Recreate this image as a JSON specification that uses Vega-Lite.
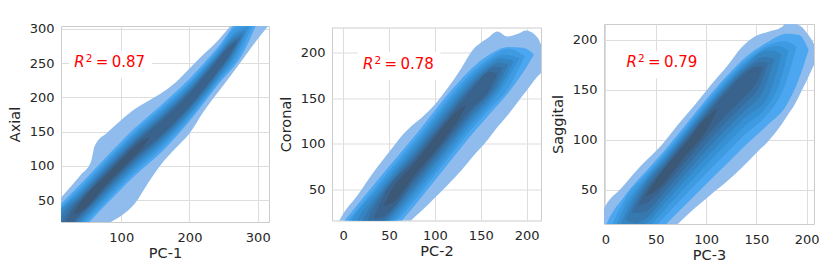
{
"$schema":"https://vega.github.io/schema/vega-lite/v6.json",
"padding":{"left":6,"top":22,"right":0,"bottom":0},
"bounds":"flush","center":true,"spacing":63,
"resolve":{"scale":{"x":"independent","y":"independent"}},
"config":{"font":"DejaVu Sans","view":{"stroke":"#cccccc","strokeWidth":1},
"axis":{"grid":true,"gridColor":"#dddddd","domain":false,"ticks":false,"labelFontSize":13,"labelColor":"#262626","titleFontSize":14.5,"titleFontWeight":"normal","titleColor":"#262626","labelPadding":7,"titlePadding":4,"labelOverlap":false,"labelFlush":false},
"axisX":{"labelPadding":9,"titlePadding":2},
"axisY":{"labelOverlap":false,"titlePadding":7}},
"datasets":{
"c1":[
{"l":1,"x":0,"lo":-50,"hi":40},{"l":1,"x":20,"lo":-30,"hi":63},{"l":1,"x":40,"lo":-15,"hi":86},{"l":1,"x":56,"lo":-5,"hi":107},{"l":1,"x":58,"lo":-4,"hi":116},{"l":1,"x":61,"lo":-1,"hi":129},{"l":1,"x":80,"lo":15,"hi":149},{"l":1,"x":100,"lo":27,"hi":167},{"l":1,"x":120,"lo":45,"hi":183},{"l":1,"x":140,"lo":76,"hi":195},{"l":1,"x":160,"lo":104,"hi":207},{"l":1,"x":180,"lo":126,"hi":222},{"l":1,"x":200,"lo":147,"hi":242},{"l":1,"x":220,"lo":178,"hi":262},{"l":1,"x":240,"lo":205,"hi":281},{"l":1,"x":260,"lo":231,"hi":304},{"l":1,"x":280,"lo":258,"hi":325},{"l":1,"x":300,"lo":285,"hi":345},{"l":1,"x":320,"lo":310,"hi":370},
{"l":2,"x":-40,"lo":-76,"hi":-7},{"l":2,"x":0,"lo":-36,"hi":33},{"l":2,"x":40,"lo":4,"hi":73},{"l":2,"x":80,"lo":46,"hi":115},{"l":2,"x":120,"lo":86,"hi":155},{"l":2,"x":160,"lo":121,"hi":190},{"l":2,"x":200,"lo":165,"hi":227},{"l":2,"x":240,"lo":216,"hi":271},{"l":2,"x":280,"lo":267,"hi":319},{"l":2,"x":305,"lo":324,"hi":324},
{"l":3,"x":-40,"lo":-71,"hi":-12},{"l":3,"x":0,"lo":-31,"hi":28},{"l":3,"x":40,"lo":9,"hi":68},{"l":3,"x":80,"lo":51,"hi":110},{"l":3,"x":120,"lo":91,"hi":150},{"l":3,"x":160,"lo":126,"hi":185},{"l":3,"x":200,"lo":169,"hi":222},{"l":3,"x":240,"lo":220,"hi":267},{"l":3,"x":272,"lo":261,"hi":306},{"l":3,"x":296,"lo":313,"hi":313},
{"l":4,"x":-25,"lo":-25,"hi":-25},{"l":4,"x":-10,"lo":-31,"hi":9},{"l":4,"x":0,"lo":-26,"hi":24},{"l":4,"x":40,"lo":14,"hi":64},{"l":4,"x":80,"lo":56,"hi":106},{"l":4,"x":120,"lo":96,"hi":146},{"l":4,"x":160,"lo":131,"hi":181},{"l":4,"x":200,"lo":174,"hi":219},{"l":4,"x":240,"lo":224,"hi":263},{"l":4,"x":270,"lo":265,"hi":297.5},{"l":4,"x":288,"lo":304,"hi":304},
{"l":5,"x":-15,"lo":-15,"hi":-15},{"l":5,"x":-2,"lo":-19.6,"hi":14},{"l":5,"x":40,"lo":18,"hi":60},{"l":5,"x":80,"lo":60,"hi":102},{"l":5,"x":120,"lo":100,"hi":142},{"l":5,"x":160,"lo":135,"hi":177},{"l":5,"x":200,"lo":177,"hi":215},{"l":5,"x":240,"lo":227,"hi":261},{"l":5,"x":266,"lo":262.8,"hi":290.3},{"l":5,"x":283,"lo":298,"hi":298},
{"l":6,"x":-5,"lo":-5,"hi":-5},{"l":6,"x":8,"lo":-6.4,"hi":21.2},{"l":6,"x":40,"lo":22,"hi":56.5},{"l":6,"x":80,"lo":64,"hi":98.5},{"l":6,"x":120,"lo":104,"hi":138.5},{"l":6,"x":160,"lo":139,"hi":173.5},{"l":6,"x":200,"lo":181,"hi":212},{"l":6,"x":240,"lo":231,"hi":258},{"l":6,"x":262,"lo":260.5,"hi":283.3},{"l":6,"x":279,"lo":293,"hi":293},
{"l":7,"x":8,"lo":8,"hi":8},{"l":7,"x":19,"lo":7.8,"hi":29.4},{"l":7,"x":40,"lo":26,"hi":53},{"l":7,"x":80,"lo":68,"hi":95},{"l":7,"x":120,"lo":108,"hi":135},{"l":7,"x":160,"lo":143,"hi":170},{"l":7,"x":200,"lo":184.4,"hi":208.7},{"l":7,"x":240,"lo":233.8,"hi":255.4},{"l":7,"x":260,"lo":260.8,"hi":278.6},{"l":7,"x":275,"lo":288,"hi":288},
{"l":8,"x":18,"lo":18,"hi":18},{"l":8,"x":27,"lo":18.2,"hi":35},{"l":8,"x":40,"lo":29,"hi":50},{"l":8,"x":80,"lo":71,"hi":92},{"l":8,"x":120,"lo":111,"hi":132},{"l":8,"x":160,"lo":146,"hi":167},{"l":8,"x":200,"lo":187,"hi":206},{"l":8,"x":240,"lo":236,"hi":253},{"l":8,"x":257,"lo":259.1,"hi":273},{"l":8,"x":270,"lo":282,"hi":282},
{"l":9,"x":30,"lo":30,"hi":30},{"l":9,"x":37,"lo":31.4,"hi":41.8},{"l":9,"x":80,"lo":75,"hi":88},{"l":9,"x":120,"lo":115,"hi":128},{"l":9,"x":132,"lo":127.2,"hi":137.6},{"l":9,"x":142,"lo":142,"hi":142}
],
"c2":[
{"l":1,"x":-12,"lo":-75,"hi":2},{"l":1,"x":-4,"lo":-68,"hi":16},{"l":1,"x":0,"lo":-62,"hi":23},{"l":1,"x":16,"lo":-45,"hi":44},{"l":1,"x":34,"lo":-25,"hi":70},{"l":1,"x":51,"lo":-5,"hi":92},{"l":1,"x":65,"lo":7,"hi":110},{"l":1,"x":74,"lo":16,"hi":119},{"l":1,"x":85,"lo":26,"hi":128},{"l":1,"x":100,"lo":41,"hi":143},{"l":1,"x":114,"lo":55,"hi":161},{"l":1,"x":129,"lo":71,"hi":183},{"l":1,"x":140,"lo":84.5,"hi":201},{"l":1,"x":158,"lo":105,"hi":216},{"l":1,"x":168,"lo":118,"hi":223},{"l":1,"x":179,"lo":131,"hi":217.5},{"l":1,"x":192,"lo":148,"hi":221},{"l":1,"x":199,"lo":157,"hi":224},{"l":1,"x":212,"lo":174,"hi":216},{"l":1,"x":216,"lo":178,"hi":208},{"l":1,"x":224,"lo":195,"hi":195},
{"l":2,"x":-30,"lo":-98,"hi":-22},{"l":2,"x":0,"lo":-62,"hi":14},{"l":2,"x":40,"lo":-13,"hi":63},{"l":2,"x":80,"lo":35,"hi":111},{"l":2,"x":120,"lo":85,"hi":161},{"l":2,"x":140,"lo":110,"hi":182.4},{"l":2,"x":160,"lo":133,"hi":198},{"l":2,"x":180,"lo":156,"hi":206},{"l":2,"x":196,"lo":178,"hi":205},{"l":2,"x":208,"lo":198,"hi":198},
{"l":3,"x":-20,"lo":-80,"hi":-15},{"l":3,"x":0,"lo":-56,"hi":9},{"l":3,"x":40,"lo":-7,"hi":58},{"l":3,"x":80,"lo":41,"hi":106},{"l":3,"x":120,"lo":91,"hi":156},{"l":3,"x":140,"lo":116,"hi":177.9},{"l":3,"x":160,"lo":138.7,"hi":194.25},{"l":3,"x":180,"lo":161,"hi":204},{"l":3,"x":198,"lo":196,"hi":196},
{"l":4,"x":-12,"lo":-36,"hi":-36},{"l":4,"x":2,"lo":-42.8,"hi":1.6},{"l":4,"x":40,"lo":-2,"hi":53.5},{"l":4,"x":80,"lo":46,"hi":101.5},{"l":4,"x":120,"lo":96,"hi":151.5},{"l":4,"x":140,"lo":121,"hi":173.9},{"l":4,"x":160,"lo":143.5,"hi":190.9},{"l":4,"x":176,"lo":164.8,"hi":197.5},{"l":4,"x":192,"lo":194,"hi":194},
{"l":5,"x":-2,"lo":-24,"hi":-24},{"l":5,"x":12,"lo":-26.8,"hi":10},{"l":5,"x":40,"lo":3,"hi":49},{"l":5,"x":80,"lo":51,"hi":97},{"l":5,"x":120,"lo":101,"hi":147},{"l":5,"x":140,"lo":126,"hi":169.8},{"l":5,"x":160,"lo":148.2,"hi":187.5},{"l":5,"x":172,"lo":164,"hi":193.6},{"l":5,"x":186,"lo":191,"hi":191},
{"l":6,"x":10,"lo":-10,"hi":-10},{"l":6,"x":24,"lo":-9,"hi":21.4},{"l":6,"x":40,"lo":7,"hi":45},{"l":6,"x":80,"lo":55,"hi":93},{"l":6,"x":120,"lo":105,"hi":143},{"l":6,"x":140,"lo":130,"hi":166.2},{"l":6,"x":160,"lo":152,"hi":184.5},{"l":6,"x":170,"lo":166.1,"hi":189.1},{"l":6,"x":180,"lo":187,"hi":187},
{"l":7,"x":22,"lo":4.5,"hi":4.5},{"l":7,"x":32,"lo":4.6,"hi":28.2},{"l":7,"x":40,"lo":11.5,"hi":41},{"l":7,"x":80,"lo":59.5,"hi":89},{"l":7,"x":120,"lo":109.5,"hi":139},{"l":7,"x":140,"lo":134.5,"hi":162.6},{"l":7,"x":160,"lo":156.3,"hi":181.5},{"l":7,"x":166,"lo":165.3,"hi":184.5},{"l":7,"x":174,"lo":183,"hi":183},
{"l":8,"x":33,"lo":18,"hi":18},{"l":8,"x":41,"lo":19,"hi":36.6},{"l":8,"x":80,"lo":63.5,"hi":85.5},{"l":8,"x":120,"lo":113.5,"hi":135.5},{"l":8,"x":140,"lo":138.5,"hi":159.45},{"l":8,"x":160,"lo":160.1,"hi":178.9},{"l":8,"x":168,"lo":177,"hi":177},
{"l":9,"x":44,"lo":32,"hi":32},{"l":9,"x":50,"lo":33.4,"hi":44.2},{"l":9,"x":80,"lo":68,"hi":81.5},{"l":9,"x":120,"lo":118,"hi":131.5},{"l":9,"x":126,"lo":126.9,"hi":137.7},{"l":9,"x":134,"lo":142.5,"hi":142.5}
],
"c3":[
{"l":1,"x":-2,"lo":-60,"hi":30},{"l":1,"x":0,"lo":-58,"hi":34},{"l":1,"x":16,"lo":-40,"hi":52},{"l":1,"x":36,"lo":-20,"hi":75},{"l":1,"x":56,"lo":0,"hi":95},{"l":1,"x":72,"lo":16,"hi":115},{"l":1,"x":89,"lo":32,"hi":135},{"l":1,"x":105,"lo":45.5,"hi":155},{"l":1,"x":122,"lo":59.6,"hi":175},{"l":1,"x":135,"lo":71.7,"hi":192},{"l":1,"x":148,"lo":85,"hi":203},{"l":1,"x":162,"lo":98.9,"hi":208},{"l":1,"x":175,"lo":115.3,"hi":212.5},{"l":1,"x":182,"lo":126,"hi":218},{"l":1,"x":188,"lo":135,"hi":216},{"l":1,"x":196,"lo":151,"hi":212},{"l":1,"x":200,"lo":159,"hi":207},{"l":1,"x":205,"lo":170,"hi":200},{"l":1,"x":210,"lo":180,"hi":190},
{"l":2,"x":-10,"lo":-17.5,"hi":-17.5},{"l":2,"x":0,"lo":-35.4,"hi":13.1},{"l":2,"x":20,"lo":-25.9,"hi":45.2},{"l":2,"x":40,"lo":-5.2,"hi":68.5},{"l":2,"x":60,"lo":15.5,"hi":91},{"l":2,"x":80,"lo":35.6,"hi":115.3},{"l":2,"x":100,"lo":55.7,"hi":140.3},{"l":2,"x":120,"lo":75.4,"hi":163.3},{"l":2,"x":140,"lo":95.4,"hi":183.3},{"l":2,"x":160,"lo":113.7,"hi":196.9},{"l":2,"x":180,"lo":134.7,"hi":206},{"l":2,"x":192,"lo":160,"hi":205},{"l":2,"x":202,"lo":190,"hi":190},
{"l":3,"x":-2,"lo":-7.5,"hi":-7.5},{"l":3,"x":10,"lo":-18.4,"hi":22.9},{"l":3,"x":20,"lo":-18.1,"hi":41.7},{"l":3,"x":40,"lo":3.2,"hi":65.1},{"l":3,"x":60,"lo":24.5,"hi":87.8},{"l":3,"x":80,"lo":45.4,"hi":112.2},{"l":3,"x":100,"lo":66.3,"hi":137.2},{"l":3,"x":120,"lo":86.6,"hi":160.2},{"l":3,"x":140,"lo":106.6,"hi":180.2},{"l":3,"x":160,"lo":124.3,"hi":194},{"l":3,"x":178,"lo":153.1,"hi":198.6},{"l":3,"x":190,"lo":193,"hi":193},
{"l":4,"x":6,"lo":2.5,"hi":2.5},{"l":4,"x":17,"lo":-5.9,"hi":29.3},{"l":4,"x":40,"lo":9.8,"hi":62},{"l":4,"x":60,"lo":31.5,"hi":85},{"l":4,"x":80,"lo":53.1,"hi":109.4},{"l":4,"x":100,"lo":74.7,"hi":134.4},{"l":4,"x":120,"lo":95.4,"hi":157.4},{"l":4,"x":140,"lo":115.4,"hi":177.4},{"l":4,"x":160,"lo":132.7,"hi":191.4},{"l":4,"x":172,"lo":153.5,"hi":193.8},{"l":4,"x":182,"lo":189,"hi":189},
{"l":5,"x":13,"lo":11.25,"hi":11.25},{"l":5,"x":24,"lo":6.1,"hi":35.8},{"l":5,"x":40,"lo":15.8,"hi":59.3},{"l":5,"x":60,"lo":37.9,"hi":82.4},{"l":5,"x":80,"lo":60.1,"hi":107},{"l":5,"x":100,"lo":82.3,"hi":132},{"l":5,"x":120,"lo":103.4,"hi":155},{"l":5,"x":140,"lo":123.4,"hi":175},{"l":5,"x":160,"lo":140.3,"hi":189},{"l":5,"x":166,"lo":154,"hi":189},{"l":5,"x":175,"lo":185,"hi":185},
{"l":6,"x":20,"lo":20,"hi":20},{"l":6,"x":30,"lo":16.6,"hi":40.9},{"l":6,"x":40,"lo":21.2,"hi":56.6},{"l":6,"x":60,"lo":43.7,"hi":79.8},{"l":6,"x":80,"lo":66.4,"hi":104.5},{"l":6,"x":100,"lo":89.1,"hi":129.5},{"l":6,"x":120,"lo":110.6,"hi":152.5},{"l":6,"x":140,"lo":130.6,"hi":172.5},{"l":6,"x":158,"lo":151.3,"hi":183.1},{"l":6,"x":168,"lo":181,"hi":181},
{"l":7,"x":26,"lo":27.2,"hi":27.2},{"l":7,"x":36,"lo":27.2,"hi":46.1},{"l":7,"x":60,"lo":49.4,"hi":77.3},{"l":7,"x":80,"lo":72.7,"hi":102},{"l":7,"x":100,"lo":96,"hi":127},{"l":7,"x":120,"lo":117.8,"hi":150},{"l":7,"x":140,"lo":137.8,"hi":170},{"l":7,"x":153,"lo":152.8,"hi":177.6},{"l":7,"x":162,"lo":177,"hi":177},
{"l":8,"x":32,"lo":34.4,"hi":34.4},{"l":8,"x":41,"lo":36.8,"hi":50.2},{"l":8,"x":60,"lo":55.2,"hi":74.7},{"l":8,"x":80,"lo":79,"hi":99.5},{"l":8,"x":100,"lo":102.8,"hi":124.5},{"l":8,"x":120,"lo":125,"hi":147.5},{"l":8,"x":140,"lo":145,"hi":167.5},{"l":8,"x":149,"lo":155.3,"hi":172.9},{"l":8,"x":157,"lo":173,"hi":173},
{"l":9,"x":40,"lo":44,"hi":44},{"l":9,"x":47,"lo":47.2,"hi":55.5},{"l":9,"x":80,"lo":84.6,"hi":97},{"l":9,"x":100,"lo":108.9,"hi":122},{"l":9,"x":105,"lo":117.3,"hi":126.5},{"l":9,"x":112,"lo":132,"hi":132}
]},
"hconcat":[
{"width":208,"height":196,"layer":[
{"data":{"name":"c1"},"mark":{"type":"area","interpolate":"monotone","clip":true},
"encoding":{"x":{"field":"x","type":"quantitative","title":"PC-1","scale":{"domain":[11.7,316.5],"nice":false,"zero":false},"axis":{"values":[100,200,300],"labelOverlap":false}},
"y":{"field":"lo","type":"quantitative","title":"Axial","stack":null,"scale":{"domain":[18,304],"nice":false,"zero":false},"axis":{"values":[50,100,150,200,250,300],"labelOverlap":false}},
"y2":{"field":"hi"},
"color":{"field":"l","type":"ordinal","legend":null,"scale":{"domain":[1,2,3,4,5,6,7,8,9],"range":["#8fbcec","#4da7f0","#3e9be2","#3790d3","#3585c3","#3679b1","#376e9f","#39638c","#3b5877"]}}}},
{"data":{"values":[{}]},"mark":{"type":"rect","fill":"white"},"encoding":{"x":{"datum":23.4,"type":"quantitative","title":"PC-1","axis":{"values":[100,200,300],"labelOverlap":false}},"x2":{"datum":144.9},"y":{"datum":228,"type":"quantitative","title":"Axial","axis":{"values":[50,100,150,200,250,300],"labelOverlap":false}},"y2":{"datum":267.5}}},
{"data":{"values":[{}]},"mark":{"type":"text","text":"R","fontStyle":"italic","fontSize":15,"color":"#ff0000","align":"left","baseline":"alphabetic"},"encoding":{"x":{"datum":31,"type":"quantitative","title":"PC-1","axis":{"values":[100,200,300],"labelOverlap":false}},"y":{"datum":244.6,"type":"quantitative","title":"Axial","axis":{"values":[50,100,150,200,250,300],"labelOverlap":false}}}},
{"data":{"values":[{}]},"mark":{"type":"text","text":"2","fontSize":10.5,"dx":11.5,"dy":-4.5,"color":"#ff0000","align":"left","baseline":"alphabetic"},"encoding":{"x":{"datum":31,"type":"quantitative","title":"PC-1","axis":{"values":[100,200,300],"labelOverlap":false}},"y":{"datum":244.6,"type":"quantitative","title":"Axial","axis":{"values":[50,100,150,200,250,300],"labelOverlap":false}}}},
{"data":{"values":[{}]},"mark":{"type":"text","text":"=","fontSize":15,"dx":21.5,"color":"#ff0000","align":"left","baseline":"alphabetic"},"encoding":{"x":{"datum":31,"type":"quantitative","title":"PC-1","axis":{"values":[100,200,300],"labelOverlap":false}},"y":{"datum":244.6,"type":"quantitative","title":"Axial","axis":{"values":[50,100,150,200,250,300],"labelOverlap":false}}}},
{"data":{"values":[{}]},"mark":{"type":"text","text":"0.87","fontSize":15,"dx":37.5,"color":"#ff0000","align":"left","baseline":"alphabetic"},"encoding":{"x":{"datum":31,"type":"quantitative","title":"PC-1","axis":{"values":[100,200,300],"labelOverlap":false}},"y":{"datum":244.6,"type":"quantitative","title":"Axial","axis":{"values":[50,100,150,200,250,300],"labelOverlap":false}}}}
]},
{"width":209,"height":193,"layer":[
{"data":{"name":"c2"},"mark":{"type":"area","interpolate":"monotone","clip":true},
"encoding":{"x":{"field":"x","type":"quantitative","title":"PC-2","scale":{"domain":[-12,215.6],"nice":false,"zero":false},"axis":{"values":[0,50,100,150,200],"labelOverlap":false}},
"y":{"field":"lo","type":"quantitative","title":"Coronal","stack":null,"scale":{"domain":[16,227.3],"nice":false,"zero":false},"axis":{"values":[50,100,150,200],"labelOverlap":false}},
"y2":{"field":"hi"},
"color":{"field":"l","type":"ordinal","legend":null,"scale":{"domain":[1,2,3,4,5,6,7,8,9],"range":["#8fbcec","#4da7f0","#3e9be2","#3790d3","#3585c3","#3679b1","#376e9f","#39638c","#3b5877"]}}}},
{"data":{"values":[{}]},"mark":{"type":"rect","fill":"white"},"encoding":{"x":{"datum":16,"type":"quantitative","title":"PC-2","axis":{"values":[0,50,100,150,200],"labelOverlap":false}},"x2":{"datum":106.2},"y":{"datum":169.7,"type":"quantitative","title":"Coronal","axis":{"values":[50,100,150,200],"labelOverlap":false}},"y2":{"datum":200.5}}},
{"data":{"values":[{}]},"mark":{"type":"text","text":"R","fontStyle":"italic","fontSize":15,"color":"#ff0000","align":"left","baseline":"alphabetic"},"encoding":{"x":{"datum":21.7,"type":"quantitative","title":"PC-2","axis":{"values":[0,50,100,150,200],"labelOverlap":false}},"y":{"datum":182.1,"type":"quantitative","title":"Coronal","axis":{"values":[50,100,150,200],"labelOverlap":false}}}},
{"data":{"values":[{}]},"mark":{"type":"text","text":"2","fontSize":10.5,"dx":11.5,"dy":-4.5,"color":"#ff0000","align":"left","baseline":"alphabetic"},"encoding":{"x":{"datum":21.7,"type":"quantitative","title":"PC-2","axis":{"values":[0,50,100,150,200],"labelOverlap":false}},"y":{"datum":182.1,"type":"quantitative","title":"Coronal","axis":{"values":[50,100,150,200],"labelOverlap":false}}}},
{"data":{"values":[{}]},"mark":{"type":"text","text":"=","fontSize":15,"dx":21.5,"color":"#ff0000","align":"left","baseline":"alphabetic"},"encoding":{"x":{"datum":21.7,"type":"quantitative","title":"PC-2","axis":{"values":[0,50,100,150,200],"labelOverlap":false}},"y":{"datum":182.1,"type":"quantitative","title":"Coronal","axis":{"values":[50,100,150,200],"labelOverlap":false}}}},
{"data":{"values":[{}]},"mark":{"type":"text","text":"0.78","fontSize":15,"dx":37.5,"color":"#ff0000","align":"left","baseline":"alphabetic"},"encoding":{"x":{"datum":21.7,"type":"quantitative","title":"PC-2","axis":{"values":[0,50,100,150,200],"labelOverlap":false}},"y":{"datum":182.1,"type":"quantitative","title":"Coronal","axis":{"values":[50,100,150,200],"labelOverlap":false}}}}
]},
{"width":210,"height":200,"layer":[
{"data":{"name":"c3"},"mark":{"type":"area","interpolate":"monotone","clip":true},
"encoding":{"x":{"field":"x","type":"quantitative","title":"PC-3","scale":{"domain":[-1.4,207.3],"nice":false,"zero":false},"axis":{"values":[0,50,100,150,200],"labelOverlap":false}},
"y":{"field":"lo","type":"quantitative","title":"Saggital","stack":null,"scale":{"domain":[16,215.7],"nice":false,"zero":false},"axis":{"values":[50,100,150,200],"labelOverlap":false}},
"y2":{"field":"hi"},
"color":{"field":"l","type":"ordinal","legend":null,"scale":{"domain":[1,2,3,4,5,6,7,8,9],"range":["#8fbcec","#4da7f0","#3e9be2","#3790d3","#3585c3","#3679b1","#376e9f","#39638c","#3b5877"]}}}},
{"data":{"values":[{}]},"mark":{"type":"rect","fill":"white"},"encoding":{"x":{"datum":15.6,"type":"quantitative","title":"PC-3","axis":{"values":[0,50,100,150,200],"labelOverlap":false}},"x2":{"datum":98},"y":{"datum":161.5,"type":"quantitative","title":"Saggital","axis":{"values":[50,100,150,200],"labelOverlap":false}},"y2":{"datum":188.4}}},
{"data":{"values":[{}]},"mark":{"type":"text","text":"R","fontStyle":"italic","fontSize":15,"color":"#ff0000","align":"left","baseline":"alphabetic"},"encoding":{"x":{"datum":20.9,"type":"quantitative","title":"PC-3","axis":{"values":[0,50,100,150,200],"labelOverlap":false}},"y":{"datum":172.8,"type":"quantitative","title":"Saggital","axis":{"values":[50,100,150,200],"labelOverlap":false}}}},
{"data":{"values":[{}]},"mark":{"type":"text","text":"2","fontSize":10.5,"dx":11.5,"dy":-4.5,"color":"#ff0000","align":"left","baseline":"alphabetic"},"encoding":{"x":{"datum":20.9,"type":"quantitative","title":"PC-3","axis":{"values":[0,50,100,150,200],"labelOverlap":false}},"y":{"datum":172.8,"type":"quantitative","title":"Saggital","axis":{"values":[50,100,150,200],"labelOverlap":false}}}},
{"data":{"values":[{}]},"mark":{"type":"text","text":"=","fontSize":15,"dx":21.5,"color":"#ff0000","align":"left","baseline":"alphabetic"},"encoding":{"x":{"datum":20.9,"type":"quantitative","title":"PC-3","axis":{"values":[0,50,100,150,200],"labelOverlap":false}},"y":{"datum":172.8,"type":"quantitative","title":"Saggital","axis":{"values":[50,100,150,200],"labelOverlap":false}}}},
{"data":{"values":[{}]},"mark":{"type":"text","text":"0.79","fontSize":15,"dx":37.5,"color":"#ff0000","align":"left","baseline":"alphabetic"},"encoding":{"x":{"datum":20.9,"type":"quantitative","title":"PC-3","axis":{"values":[0,50,100,150,200],"labelOverlap":false}},"y":{"datum":172.8,"type":"quantitative","title":"Saggital","axis":{"values":[50,100,150,200],"labelOverlap":false}}}}
]}
]}
